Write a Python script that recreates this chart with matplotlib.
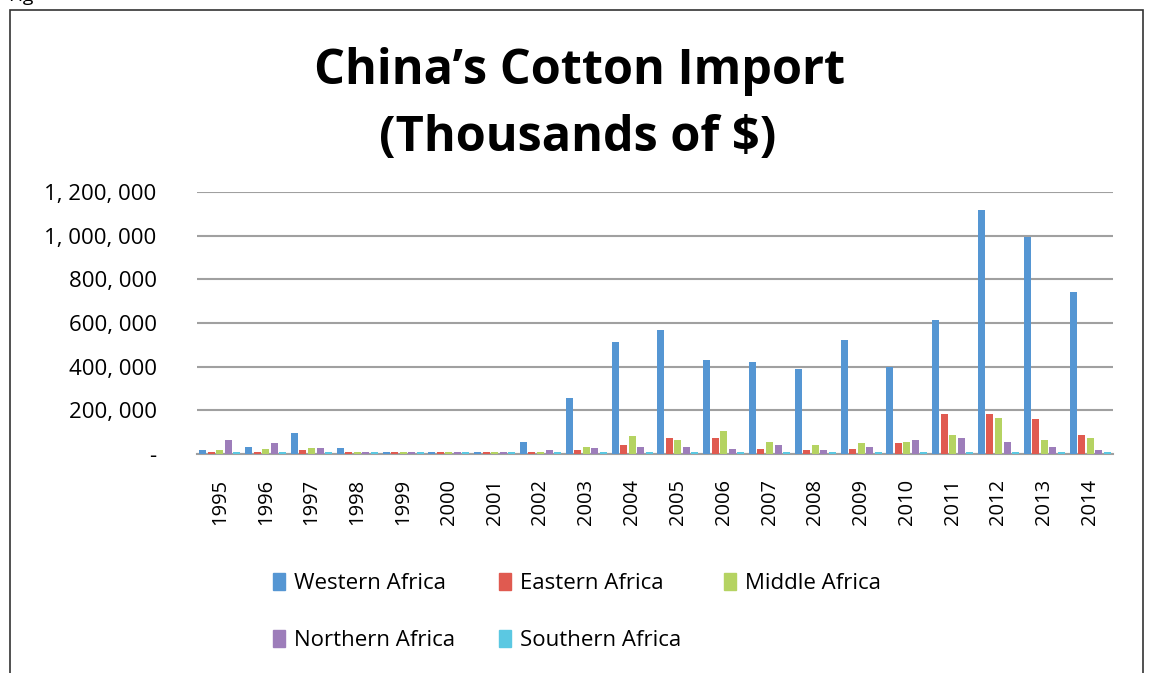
import matplotlib
matplotlib.use("Agg")
import matplotlib.pyplot as plt
import numpy as np
from matplotlib.patches import Rectangle, Patch
from matplotlib.ticker import FuncFormatter

years = [str(y) for y in range(1995, 2015)]
western = [18600, 32500, 98000, 28000, 9000, 9000, 9000, 56000, 256000, 512000,
           570000, 432000, 423000, 391000, 521000, 397000, 614000, 1117000, 995000, 743000]
eastern = [9000, 9000, 18600, 9000, 9000, 9000, 9000, 9000, 18600, 42000,
           74000, 74000, 23000, 18600, 23000, 51000, 185000, 185000, 162000, 88000]
middle = [18600, 23000, 28000, 9000, 9000, 9000, 9000, 9000, 32500, 84000,
          65000, 107000, 56000, 42000, 51000, 55000, 88000, 166000, 65000, 74000]
northern = [65000, 51000, 28000, 9000, 9000, 9000, 9000, 18600, 28000, 32500,
            32500, 23000, 42000, 18600, 32000, 65000, 74000, 55000, 32000, 18500]
southern = [9000] * 20
series_names = ["Western Africa", "Eastern Africa", "Middle Africa",
                "Northern Africa", "Southern Africa"]
colors = ["#5596D3", "#E05A50", "#B5D362", "#9D7DBA", "#5BC8E2"]
yticks = [0, 200000, 400000, 600000, 800000, 1000000, 1200000]

plt.rcParams['font.family'] = ['Open Sans', 'DejaVu Sans']

W, H = 1157, 673
fig = plt.figure(figsize=(W / 100, H / 100), dpi=100)

# outer frame
fig.add_artist(Rectangle((10 / W, -0.05), (1143 - 10) / W, 1 - 10 / H + 0.05,
                         transform=fig.transFigure, fill=False,
                         edgecolor="#333333", linewidth=1.2))
fig.text(8 / W, 1 + 4 / H, "Fig", fontsize=14, ha="left", va="center")

ax = fig.add_axes([197 / W, 1 - 454 / H, (1113 - 197) / W, (454 - 192) / H])

data = [western, eastern, middle, northern, southern]
x = np.arange(len(years))
step = 0.186
bw = 0.153
for i, (vals, c) in enumerate(zip(data, colors)):
    ax.bar(x + (i - 2) * step, vals, width=bw, color=c, zorder=3)

ax.set_xlim(-0.5, len(years) - 0.5)
ax.set_ylim(0, 1200000)
ax.set_yticks(yticks)
ax.yaxis.set_major_formatter(FuncFormatter(
    lambda v, p: "-" if v == 0 else f"{int(v):,}".replace(",", ", ")))
ax.set_xticks(x)
ax.set_xticklabels(years, rotation=90)
ax.tick_params(axis="y", length=0, pad=29, labelsize=16)
ax.tick_params(axis="x", length=0, pad=18, labelsize=14.5)
for s in ["top", "right", "left"]:
    ax.spines[s].set_visible(False)
ax.spines["bottom"].set_color("#A0A0A0")
ax.spines["bottom"].set_linewidth(1.5)
ax.grid(axis="y", color="#A0A0A0", linewidth=1.5, zorder=0)
ax.set_axisbelow(True)

fig.text(580 / W, 1 - 72 / H, "China’s Cotton Import", fontsize=35,
         fontweight="bold", ha="center", va="center")
fig.text(578 / W, 1 - 138 / H, "(Thousands of $)", fontsize=35,
         fontweight="bold", ha="center", va="center")

handles = [Patch(color=c, label=n) for c, n in zip(colors, series_names)]
order = [0, 3, 1, 4, 2]
leg = fig.legend([handles[i] for i in order], [series_names[i] for i in order],
                 ncol=3, loc="upper left", bbox_to_anchor=(273 / W, 1 - 573 / H),
                 frameon=False, fontsize=16, handlelength=0.55, handleheight=0.8,
                 handletextpad=0.4, columnspacing=1.95, labelspacing=1.6,
                 borderpad=0, borderaxespad=0)

fig.savefig("out.png", dpi=100)
